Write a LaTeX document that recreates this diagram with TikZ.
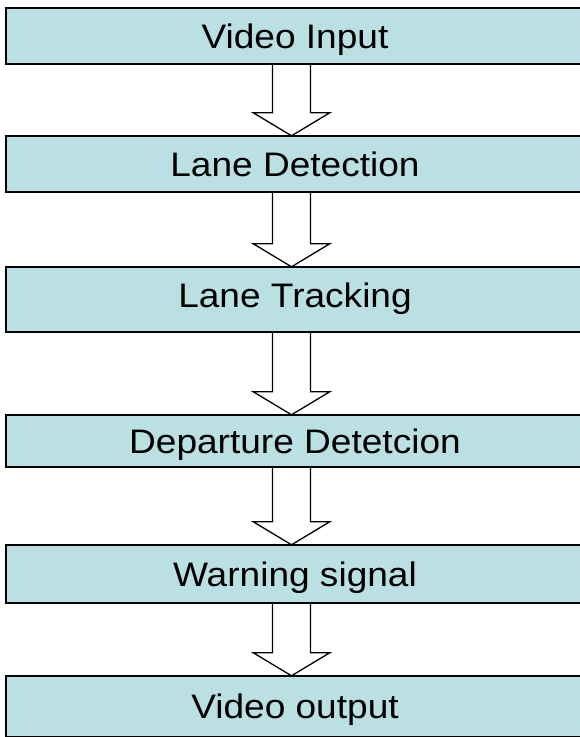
\documentclass[tikz,border=0pt]{standalone}
\usepackage{fontspec}
\setmainfont{Liberation Sans}
\usetikzlibrary{calc}
\definecolor{boxfill}{RGB}{187,224,227}
\newcommand\flowarrow[2]{%
  \draw[blockarrow] let \p1=(#1.south), \p2=(#2.north) in
    (272.5,\y1) -- (272.5,\y2+23) -- (253.3,\y2+23) -- (291.5,\y2)
    -- (329.7,\y2+23) -- (310.5,\y2+23) -- (310.5,\y1);}
\begin{document}
\begin{tikzpicture}[x=1pt,y=1pt,
  stagebox/.style={rectangle,draw=black,fill=boxfill,line width=1.4pt,
    minimum width=578pt,inner sep=0pt},
  boxframe/.style={rectangle,minimum width=578pt,inner sep=0pt},
  stagetext/.style={anchor=base,inner sep=0pt,text=black,xscale=1.09,
    font=\fontsize{34}{40}\selectfont},
  blockarrow/.style={draw=black,fill=white,line width=1.3pt,line join=miter}]
\useasboundingbox (0,0) rectangle (580,737);
\clip (0,0) rectangle (580,737);
% invisible frames fixing the box positions
\node[boxframe,minimum height=56pt] (b1) at (295,701) {};
\node[boxframe,minimum height=56pt] (b2) at (295,573) {};
\node[boxframe,minimum height=65pt] (b3) at (295,437.5) {};
\node[boxframe,minimum height=52pt] (b4) at (295,296) {};
\node[boxframe,minimum height=58pt] (b5) at (295,163) {};
\node[boxframe,minimum height=61pt] (b6) at (295,30.5) {};
% arrows (drawn first, box borders on top)
\flowarrow{b1}{b2}
\flowarrow{b2}{b3}
\flowarrow{b3}{b4}
\flowarrow{b4}{b5}
\flowarrow{b5}{b6}
% boxes
\node[stagebox,minimum height=56pt] (box1) at (b1) {};
\node[stagebox,minimum height=56pt] (box2) at (b2) {};
\node[stagebox,minimum height=65pt] (box3) at (b3) {};
\node[stagebox,minimum height=52pt] (box4) at (b4) {};
\node[stagebox,minimum height=58pt] (box5) at (b5) {};
\node[stagebox,minimum height=61pt] (box6) at (b6) {};
% texts
\node[stagetext] (t1) at (295,688.7) {Video Input};
\node[stagetext] (t2) at (295,560.5) {Lane Detection};
\node[stagetext] (t3) at (295,429.3) {Lane Tracking};
\node[stagetext] (t4) at (295,283.5) {Departure Detetcion};
\node[stagetext] (t5) at (295,150.5) {Warning signal};
\node[stagetext] (t6) at (295,18) {Video output};
\end{tikzpicture}
\end{document}
